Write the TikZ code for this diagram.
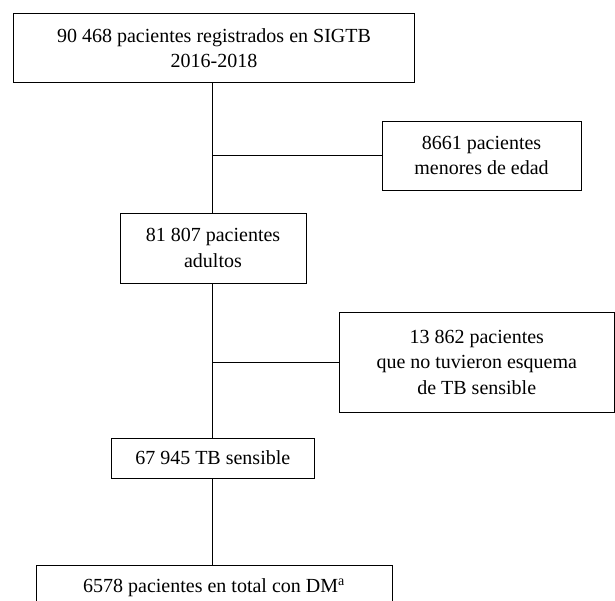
\documentclass[tikz,border=0pt]{standalone}
\usepackage{fontspec}
\setmainfont{Liberation Serif}
\begin{document}
\begin{tikzpicture}[x=1pt,y=-1pt,
  box/.style={draw,line width=1pt,inner sep=0pt,align=center,
    font=\fontsize{20}{25.5}\selectfont},
  conn/.style={line width=1pt}]
\useasboundingbox (0,0) rectangle (615,600);
\clip (0,0) rectangle (615,600);
\node[box,minimum width=401pt,minimum height=69pt] (b1) at (214,48)
  {90 468 pacientes registrados en SIGTB\\2016-2018};
\node[box,minimum width=199pt,minimum height=69pt] (b2) at (481.5,155.5)
  {8661 pacientes\\menores de edad};
\node[box,minimum width=186pt,minimum height=70pt] (b3) at (213,248)
  {81 807 pacientes\\adultos};
\node[box,minimum width=275.5pt,minimum height=100pt] (b4) at (476.75,362)
  {13 862 pacientes\\que no tuvieron esquema\\de TB sensible};
\node[box,minimum width=203.5pt,minimum height=40pt] (b5) at (212.75,458)
  {67 945 TB sensible};
\node[box,minimum width=356pt,minimum height=46pt] (b6) at (214,588)
  {6578 pacientes en total con DM\textsuperscript{a}};
\coordinate (trunk) at (212,0);
\draw[conn] (b1.south -| trunk) -- (b3.north -| trunk);
\draw[conn] (b3.south -| trunk) -- (b5.north -| trunk);
\draw[conn] (b5.south -| trunk) -- (b6.north -| trunk);
\draw[conn] (b2.west -| trunk) -- (b2.west);
\draw[conn] (b4.west -| trunk) -- (b4.west);
\end{tikzpicture}
\end{document}
